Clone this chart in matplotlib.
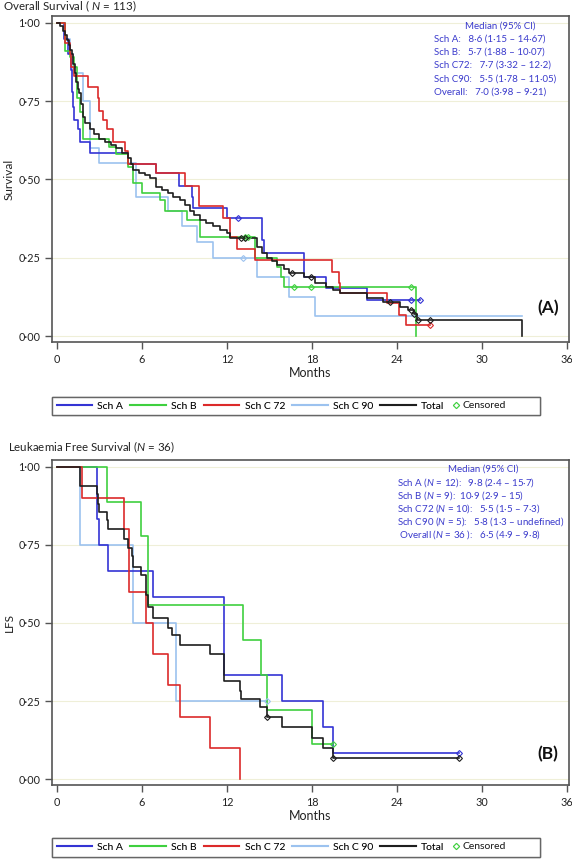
import numpy as np
import matplotlib
matplotlib.use('Agg')
import matplotlib.pyplot as plt
from matplotlib.lines import Line2D
from matplotlib.text import Text
from matplotlib.legend_handler import HandlerBase
from matplotlib.ticker import FuncFormatter

plt.rcParams['font.family'] = ['Lato', 'DejaVu Sans']
plt.rcParams['mathtext.fontset'] = 'custom'
plt.rcParams['mathtext.it'] = 'Lato:italic'
plt.rcParams['mathtext.rm'] = 'Lato'

# ---- Overall survival (panel A) ----
os_a_t = [0, 0.5, 0.8, 1.0, 1.05, 1.1, 1.2, 1.5, 1.6, 2.3, 5.0, 7.0, 8.6, 9.5, 9.6, 12.0, 14.5, 14.6, 17.4, 19.0, 21.9]
os_a_s = [1.0, 0.95, 0.90, 0.85, 0.78, 0.73, 0.69, 0.66, 0.62, 0.585, 0.55, 0.52, 0.48, 0.445, 0.41, 0.377, 0.307, 0.265, 0.19, 0.153, 0.115]
os_a_end = 25.6
os_a_cens = [12.8, 25.0, 25.6]

os_b_t = [0, 0.55, 0.9, 1.2, 1.4, 1.6, 1.85, 3.7, 4.2, 5.0, 5.4, 6.0, 7.3, 7.6, 9.2, 10.1, 14.0, 15.5, 15.8, 16.0, 25.3]
os_b_s = [1.0, 0.91, 0.89, 0.86, 0.76, 0.715, 0.63, 0.605, 0.58, 0.54, 0.49, 0.457, 0.435, 0.40, 0.37, 0.316, 0.25, 0.22, 0.19, 0.157, 0.0]
os_b_end = 25.3
os_b_cens = [13.3, 13.5, 16.7, 17.9, 25.0]

os_c72_t = [0, 0.55, 0.92, 1.0, 1.2, 2.2, 2.9, 3.0, 3.25, 3.5, 3.95, 4.8, 5.0, 7.0, 9.0, 10.0, 11.7, 12.2, 12.7, 14.0, 19.4, 19.9, 20.0, 23.3, 24.1, 24.6]
os_c72_s = [1.0, 0.935, 0.90, 0.86, 0.83, 0.795, 0.76, 0.72, 0.69, 0.66, 0.62, 0.59, 0.55, 0.52, 0.48, 0.415, 0.377, 0.316, 0.278, 0.243, 0.205, 0.17, 0.137, 0.105, 0.067, 0.035]
os_c72_end = 26.3
os_c72_cens = [26.3]

os_c90_t = [0, 0.56, 0.95, 1.15, 1.85, 2.3, 3.0, 5.6, 7.8, 8.8, 9.9, 11.0, 14.1, 16.4, 18.2]
os_c90_s = [1.0, 0.95, 0.90, 0.84, 0.75, 0.60, 0.553, 0.445, 0.40, 0.35, 0.30, 0.25, 0.19, 0.125, 0.0625]
os_c90_end = 32.8
os_c90_cens = [13.1]

os_tot_t = [0, 0.2, 0.4, 0.55, 0.7, 0.85, 0.95, 1.05, 1.15, 1.25, 1.35, 1.45, 1.55, 1.7, 1.85, 2.0, 2.3, 2.6,
            3.0, 3.4, 3.8, 4.2, 4.6, 5.0, 5.2, 5.4, 5.8, 6.2, 6.6, 7.0, 7.4, 7.8, 8.2, 8.7, 9.0, 9.4, 9.7, 10.1,
            10.5, 11.0, 11.5, 12.0, 12.2, 14.1, 14.5, 14.8, 15.2, 15.5, 16.0, 16.4, 17.4, 18.2, 19.0, 19.5,
            20.0, 21.9, 23.0, 24.2, 24.8, 25.2, 25.4, 32.8]
os_tot_s = [1.0, 0.99, 0.975, 0.96, 0.945, 0.93, 0.915, 0.90, 0.87, 0.84, 0.81, 0.79, 0.775, 0.74, 0.70, 0.68, 0.66, 0.645,
            0.63, 0.62, 0.61, 0.60, 0.585, 0.57, 0.55, 0.53, 0.52, 0.515, 0.505, 0.476, 0.466, 0.457, 0.445, 0.435, 0.42, 0.40, 0.385, 0.37,
            0.36, 0.35, 0.34, 0.33, 0.313, 0.285, 0.265, 0.25, 0.24, 0.227, 0.215, 0.20, 0.188, 0.17, 0.157, 0.147,
            0.137, 0.12, 0.11, 0.093, 0.083, 0.07, 0.05, 0.0]
os_tot_end = 32.8
os_tot_cens = [13.0, 13.3, 16.6, 17.9, 23.5, 25.0, 25.2, 25.5, 26.3]

# ---- Leukaemia free survival (panel B) ----
lfs_a_t = [0, 2.8, 2.95, 3.6, 6.8, 11.8, 15.9, 18.8, 19.5]
lfs_a_s = [1.0, 0.833, 0.75, 0.667, 0.583, 0.333, 0.25, 0.167, 0.083]
lfs_a_end = 28.4
lfs_a_cens = [28.4]

lfs_b_t = [0, 3.5, 5.9, 6.4, 13.1, 14.4, 14.8, 18.0]
lfs_b_s = [1.0, 0.889, 0.778, 0.556, 0.444, 0.333, 0.222, 0.111]
lfs_b_end = 19.5
lfs_b_cens = [19.5]

lfs_c72_t = [0, 1.8, 4.7, 5.1, 6.3, 6.8, 7.8, 8.7, 10.8, 12.9]
lfs_c72_s = [1.0, 0.9, 0.8, 0.6, 0.5, 0.4, 0.3, 0.2, 0.1, 0.0]
lfs_c72_end = 12.9
lfs_c72_cens = []

lfs_c90_t = [0, 1.6, 5.4, 8.4]
lfs_c90_s = [1.0, 0.75, 0.5, 0.25]
lfs_c90_end = 14.8
lfs_c90_cens = [14.8]

lfs_tot_t = [0, 1.6, 1.65, 2.8, 2.9, 3.0, 3.5, 3.6, 4.7, 5.0, 5.3, 5.4, 5.9, 6.3, 6.4, 6.8, 7.8, 8.1, 8.7,
             10.8, 11.8, 12.9, 13.0, 14.3, 14.8, 15.9, 18.0, 18.8, 19.5]
lfs_tot_s = [1.0, 0.968, 0.94, 0.914, 0.88, 0.857, 0.83, 0.80, 0.77, 0.74, 0.714, 0.68, 0.655, 0.59, 0.55, 0.515, 0.485, 0.46, 0.43,
             0.40, 0.315, 0.283, 0.257, 0.23, 0.20, 0.166, 0.133, 0.10, 0.066]
lfs_tot_end = 28.4
lfs_tot_cens = [14.8, 19.5, 28.4]

names = ['Sch A', 'Sch B', 'Sch C 72', 'Sch C 90', 'Total']
colors = ['#3434d4', '#3fd03f', '#dc2a2a', '#9cc2ef', '#1e1e1e']

os_text = ['Sch A:   8\u00b76 (1\u00b715 \u2013 14\u00b767)',
           'Sch B:   5\u00b77 (1\u00b788 \u2013 10\u00b707)',
           'Sch C72:   7\u00b77 (3\u00b732 \u2013 12\u00b72)',
           'Sch C90:   5\u00b75 (1\u00b778 \u2013 11\u00b705)',
           'Overall:   7\u00b70 (3\u00b798 \u2013 9\u00b721)']
lfs_text = ['Sch A ($N$ = 12):   9\u00b78 (2\u00b74 \u2013 15\u00b77)',
            'Sch B ($N$ = 9):  10\u00b79 (2\u00b79 \u2013 15)',
            'Sch C72 ($N$ = 10):   5\u00b75 (1\u00b75 \u2013 7\u00b73)',
            'Sch C90 ($N$ = 5):   5\u00b78 (1\u00b73 \u2013 undefined)',
            ' Overall ($N$ = 36 ):   6\u00b75 (4\u00b79 \u2013 9\u00b78)']

txt_blue = '#3a3acc'
frame = '#555555'
ink = '#222222'


class CensorHandler(HandlerBase):
    # diamond right before the word, as in the SAS legend
    def create_artists(self, legend, orig_handle, xdescent, ydescent, width, height, fontsize, trans):
        y = height / 2 - ydescent
        m = Line2D([-xdescent + 3], [y], marker='D', ms=3.2, mfc='none', mec='#3fd03f',
                   mew=0.8, ls='none', transform=trans)
        t = Text(-xdescent + 8, y, 'Censored', fontsize=fontsize, va='center', ha='left',
                 color=ink, transform=trans)
        return [m, t]


def draw_panel(ax, curves, tag):
    # curves: list of (times, surv, end, censor_times)
    zs = [3, 4, 5, 2, 6]
    for (t, s, end, cens), c, z in zip(curves, colors, zs):
        ax.step(t + [end], s + [s[-1]], where='post', color=c, lw=1.2, zorder=z)
        if len(cens) > 0:
            idx = np.searchsorted(t, cens, side='right') - 1
            ax.plot(cens, np.array(s)[idx], ls='none', marker='D', ms=3.0, mfc='none',
                    mec=c, mew=0.8, zorder=z + 5)
    ax.set_xlim(-0.35, 36.13)
    ax.set_ylim(-0.019, 1.022)
    ax.set_xticks(range(0, 37, 6))
    ax.set_yticks([0, 0.25, 0.5, 0.75, 1.0])
    ax.yaxis.set_major_formatter(FuncFormatter(lambda v, p: ('%.2f' % v).replace('.', '\u00b7')))
    for y in [0, 0.25, 0.5, 0.75, 1.0]:
        ax.axhline(y, color='#efefd8', lw=0.8, zorder=0)
    for sp in ax.spines.values():
        sp.set_color(frame)
        sp.set_linewidth(1.2)
    ax.tick_params(axis='both', direction='out', length=5, width=1, color=frame,
                   labelsize=7.8, pad=3.5, labelcolor=ink)
    ax.set_xlabel('Months', fontsize=9, color=ink)
    ax.xaxis.set_label_coords(0.5, -0.078)
    ax.text(0.959, 0.104 if tag == '(A)' else 0.095, tag, transform=ax.transAxes,
            ha='center', va='center', fontsize=12.5, fontweight='bold', color='#111111')


fig = plt.figure(figsize=(5.72, 8.6), dpi=100)
axA = fig.add_axes([52 / 572, 1 - 342 / 860, 517 / 572, 326 / 860])
axB = fig.add_axes([52 / 572, 1 - 785 / 860, 517 / 572, 325 / 860])

draw_panel(axA, [(os_a_t, os_a_s, os_a_end, os_a_cens),
                 (os_b_t, os_b_s, os_b_end, os_b_cens),
                 (os_c72_t, os_c72_s, os_c72_end, os_c72_cens),
                 (os_c90_t, os_c90_s, os_c90_end, os_c90_cens),
                 (os_tot_t, os_tot_s, os_tot_end, os_tot_cens)], '(A)')
draw_panel(axB, [(lfs_a_t, lfs_a_s, lfs_a_end, lfs_a_cens),
                 (lfs_b_t, lfs_b_s, lfs_b_end, lfs_b_cens),
                 (lfs_c72_t, lfs_c72_s, lfs_c72_end, lfs_c72_cens),
                 (lfs_c90_t, lfs_c90_s, lfs_c90_end, lfs_c90_cens),
                 (lfs_tot_t, lfs_tot_s, lfs_tot_end, lfs_tot_cens)], '(B)')

axA.set_ylabel('Survival', fontsize=8.5, color=ink)
axA.yaxis.set_label_coords(-0.072, 0.5)
axB.set_ylabel('LFS', fontsize=8.5, color=ink)
axB.yaxis.set_label_coords(-0.072, 0.5)

# median text blocks
axA.text(0.867, 0.969, 'Median (95% CI)', transform=axA.transAxes, ha='center', va='center',
         fontsize=7.0, color=txt_blue)
for i, line in enumerate(os_text):
    axA.text(0.739, 0.929 - 0.0405 * i, line, transform=axA.transAxes, ha='left', va='center',
             fontsize=7.0, color=txt_blue)
axB.text(0.834, 0.972, 'Median (95% CI)', transform=axB.transAxes, ha='center', va='center',
         fontsize=7.0, color=txt_blue)
for i, line in enumerate(lfs_text):
    axB.text(0.667, 0.932 - 0.040 * i, line, transform=axB.transAxes, ha='left', va='center',
             fontsize=7.0, color=txt_blue)

fig.text(3 / 572, 1 - 6 / 860, 'Overall Survival ( $N$ = 113)', fontsize=8.3, va='center', color=ink)
fig.text(8 / 572, 1 - 447 / 860, 'Leukaemia Free Survival ($N$ = 36)', fontsize=8.3, va='center', color=ink)

# legends
handles = [Line2D([], [], color=c, lw=1.5) for c in colors] + [Line2D([], [], ls='none')]
labels = names + ['Censored']
for yc in [1 - 406 / 860, 1 - 847.5 / 860]:
    leg = fig.legend(handles, labels, loc='center left', bbox_to_anchor=(52 / 572, yc), ncol=6,
                     fontsize=7.5, frameon=True, fancybox=False, edgecolor=frame, borderaxespad=0,
                     handlelength=3.4, handletextpad=0.5, columnspacing=0.7, borderpad=0.45,
                     handler_map={handles[5]: CensorHandler()})
    leg.get_frame().set_linewidth(1.0)
    leg.get_texts()[5].set_alpha(0)
    fig.add_artist(leg)

fig.savefig('out.png', dpi=100)
